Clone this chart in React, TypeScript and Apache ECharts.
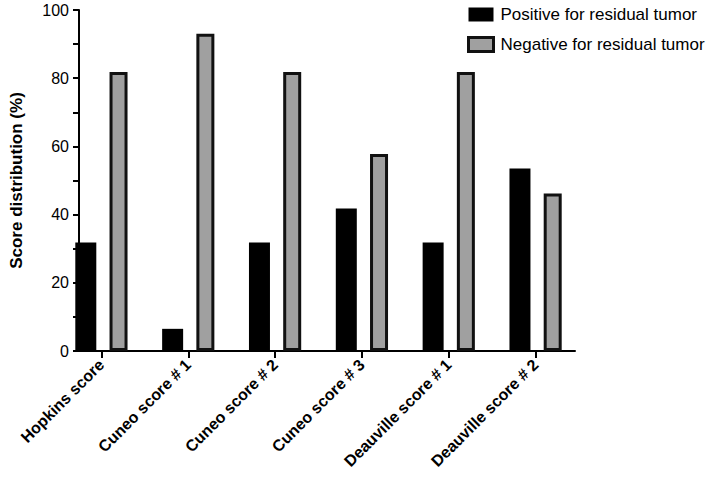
import React, { useEffect, useRef } from "react";
import * as echarts from "echarts";

const categories = [
  "Hopkins score",
  "Cuneo score # 1",
  "Cuneo score # 2",
  "Cuneo score # 3",
  "Deauville score # 1",
  "Deauville score # 2",
];
const positiveValues = [31.8, 6.5, 31.8, 41.8, 31.8, 53.5];
const negativeValues = [81.8, 93.0, 81.8, 57.8, 81.8, 46.2];
const seriesNames = ["Positive for residual tumor", "Negative for residual tumor"];
const yAxisTitle = "Score distribution (%)";

const FONT = "'Liberation Sans', Arial, Helvetica, sans-serif";

export default function App() {
  const ref = useRef<HTMLDivElement>(null);
  useEffect(() => {
    if (!ref.current) return;
    const chart = echarts.init(ref.current, undefined, { renderer: "svg" });
    chart.setOption({
      animation: false,
      backgroundColor: "#ffffff",
      textStyle: { fontFamily: FONT },
      legend: {
        orient: "vertical",
        left: 462,
        top: 1,
        icon: "rect",
        itemWidth: 25,
        itemHeight: 14,
        itemGap: 13,
        textStyle: { fontSize: 17, color: "#000", fontFamily: FONT, padding: [0, 0, 0, 2] },
        data: [
          { name: seriesNames[0], itemStyle: { color: "#000", borderWidth: 0 } },
          { name: seriesNames[1], itemStyle: { color: "#a0a0a0", borderColor: "#111", borderWidth: 3 } },
        ],
      },
      grid: [
        { left: 58, width: 521, top: 10, height: 341 },
        { left: 63, width: 512, top: 10, height: 341 },
      ],
      xAxis: [
        {
          type: "category",
          gridIndex: 0,
          data: categories,
          boundaryGap: true,
          axisLine: { show: false },
          axisTick: { show: true, alignWithLabel: true, length: 7, lineStyle: { color: "#000", width: 2 } },
          axisLabel: {
            rotate: 45,
            margin: 11,
            fontSize: 16,
            fontWeight: "bold",
            color: "#000",
            fontFamily: FONT,
            interval: 0,
          },
          splitLine: { show: false },
        },
        {
          type: "value",
          gridIndex: 1,
          min: 0,
          max: 1,
          axisLine: { show: true, lineStyle: { color: "#000", width: 2 } },
          axisTick: { show: false },
          axisLabel: { show: false },
          splitLine: { show: false },
        },
      ],
      yAxis: [
        {
          type: "value",
          gridIndex: 0,
          min: 0,
          max: 100,
          show: false,
          splitLine: { show: false },
        },
        {
          type: "value",
          gridIndex: 1,
          min: 0,
          max: 100,
          interval: 10,
          name: yAxisTitle,
          nameLocation: "middle",
          nameGap: 54,
          nameTextStyle: { fontSize: 17, fontWeight: "bold", color: "#000", fontFamily: FONT },
          axisLine: { show: true, lineStyle: { color: "#000", width: 2 } },
          axisTick: { show: true, length: 6, lineStyle: { color: "#000", width: 2 } },
          axisLabel: {
            fontSize: 16,
            color: "#000",
            margin: 10,
            fontFamily: FONT,
            formatter: (v: number) => (v % 20 === 0 ? String(v) : ""),
          },
          splitLine: { show: false },
        },
      ],
      series: [
        {
          name: seriesNames[0],
          type: "bar",
          xAxisIndex: 0,
          yAxisIndex: 0,
          data: positiveValues,
          barWidth: 21,
          barGap: "63%",
          itemStyle: { color: "#000" },
        },
        {
          name: seriesNames[1],
          type: "bar",
          xAxisIndex: 0,
          yAxisIndex: 0,
          data: negativeValues,
          barWidth: 18,
          barGap: "63%",
          itemStyle: { color: "#a0a0a0", borderColor: "#111", borderWidth: 3 },
        },
      ],
    });
    return () => chart.dispose();
  }, []);
  return (
    <div
      ref={ref}
      style={{ position: "fixed", left: 0, top: 0, width: 709, height: 477, background: "#fff" }}
    />
  );
}
